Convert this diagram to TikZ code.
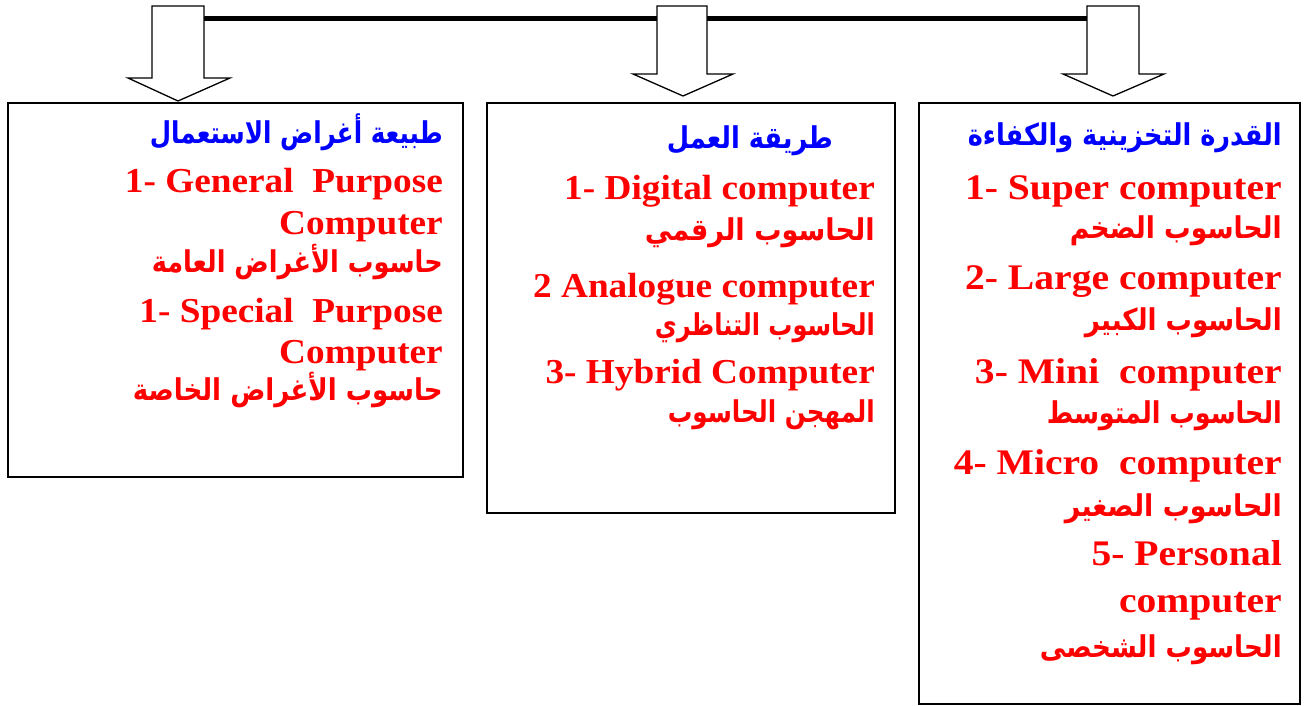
\documentclass[tikz,border=0pt]{standalone}
\usepackage{fontspec}
\setmainfont{Liberation Serif}
\newfontfamily\arabicfont[Script=Arabic]{DejaVu Sans}
\TeXXeTstate=1
\usepackage{graphicx}
\newcommand{\arw}[2]{\resizebox{#1pt}{\height}{\arabicfont\bfseries\fontsize{30}{32}\selectfont #2}}
\newcommand{\enA}[1]{\scalebox{1.065}[1]{\fontsize{35}{37}\selectfont\bfseries #1}}
\newcommand{\enB}[1]{\scalebox{1.1}[1]{\fontsize{36}{38}\selectfont\bfseries #1}}
\begin{document}
\begin{tikzpicture}[x=1pt,y=-1pt,
  boxst/.style={draw=black,line width=1.3pt},
  blockarrow/.style={draw=black,fill=white,line width=1.3pt,line join=miter},
  en/.style={anchor=base east,inner sep=0pt,text=red},
  ar/.style={anchor=base east,inner sep=0pt,text=red},
  ti/.style={anchor=base east,inner sep=0pt,text=blue}]
\useasboundingbox (0,0) rectangle (1314,706);
% boxes
\draw[boxst] (8,103) rectangle (463,477);
\draw[boxst] (487,103) rectangle (895,513);
\draw[boxst] (919,103) rectangle (1300,704);
% top bar
\draw[line width=5pt] (204,19) -- (1087,19);
% block arrows
\draw[blockarrow] (152,6) -- (204,6) -- (204,78) -- (230,78) -- (178,101) -- (128,78) -- (152,78) -- cycle;
\draw[blockarrow] (657,6) -- (707,6) -- (707,74) -- (733,74) -- (683,96) -- (633,74) -- (657,74) -- cycle;
\draw[blockarrow] (1087,6) -- (1139,6) -- (1139,74) -- (1164,74) -- (1113,96) -- (1063,74) -- (1087,74) -- cycle;
% left box
\node[ti] (l0) at (443,143) {\arw{293}{\beginR طبيعة أغراض الاستعمال\endR}};
\node[en] (l1) at (443,192) {\enA{1- General\ \ Purpose}};
\node[en] (l2) at (443,234) {\enA{Computer}};
\node[ar] (l3) at (443,272) {\arw{291}{\beginR حاسوب الأغراض العامة\endR}};
\node[en] (l4) at (443,322) {\enA{1- Special\ \ Purpose}};
\node[en] (l5) at (443,363) {\enA{Computer}};
\node[ar] (l6) at (443,400) {\arw{310}{\beginR حاسوب الأغراض الخاصة\endR}};
% middle box
\node[ti] (m0) at (833,148) {\arw{166}{\beginR طريقة العمل\endR}};
\node[en] (m1) at (875,199) {\enA{1- Digital computer}};
\node[ar] (m2) at (875,240) {\arw{230}{\beginR الحاسوب الرقمي\endR}};
\node[en] (m3) at (875,297) {\enA{2 Analogue computer}};
\node[ar] (m4) at (875,335) {\arw{220}{\beginR الحاسوب التناظري\endR}};
\node[en] (m5) at (875,383) {\enA{3- Hybrid Computer}};
\node[ar] (m6) at (875,422) {\arw{207}{\beginR المهجن الحاسوب\endR}};
% right box
\node[ti] (r0) at (1282,146) {\arw{314}{\beginR القدرة التخزينية والكفاءة\endR}};
\node[en] (r1) at (1282,199) {\enB{1- Super computer}};
\node[ar] (r2) at (1282,238) {\arw{212}{\beginR الحاسوب الضخم\endR}};
\node[en] (r3) at (1282,289) {\enB{2- Large computer}};
\node[ar] (r4) at (1282,330) {\arw{197}{\beginR الحاسوب الكبير\endR}};
\node[en] (r5) at (1282,383) {\enB{3- Mini\ \ computer}};
\node[ar] (r6) at (1282,423) {\arw{235}{\beginR الحاسوب المتوسط\endR}};
\node[en] (r7) at (1282,474) {\enB{4- Micro\ \ computer}};
\node[ar] (r8) at (1282,516) {\arw{217}{\beginR الحاسوب الصغير\endR}};
\node[en] (r9) at (1282,565) {\enB{5- Personal}};
\node[en] (r10) at (1282,612) {\enB{computer}};
\node[ar] (r11) at (1282,657) {\arw{242}{\beginR الحاسوب الشخصى\endR}};
\end{tikzpicture}
\end{document}
